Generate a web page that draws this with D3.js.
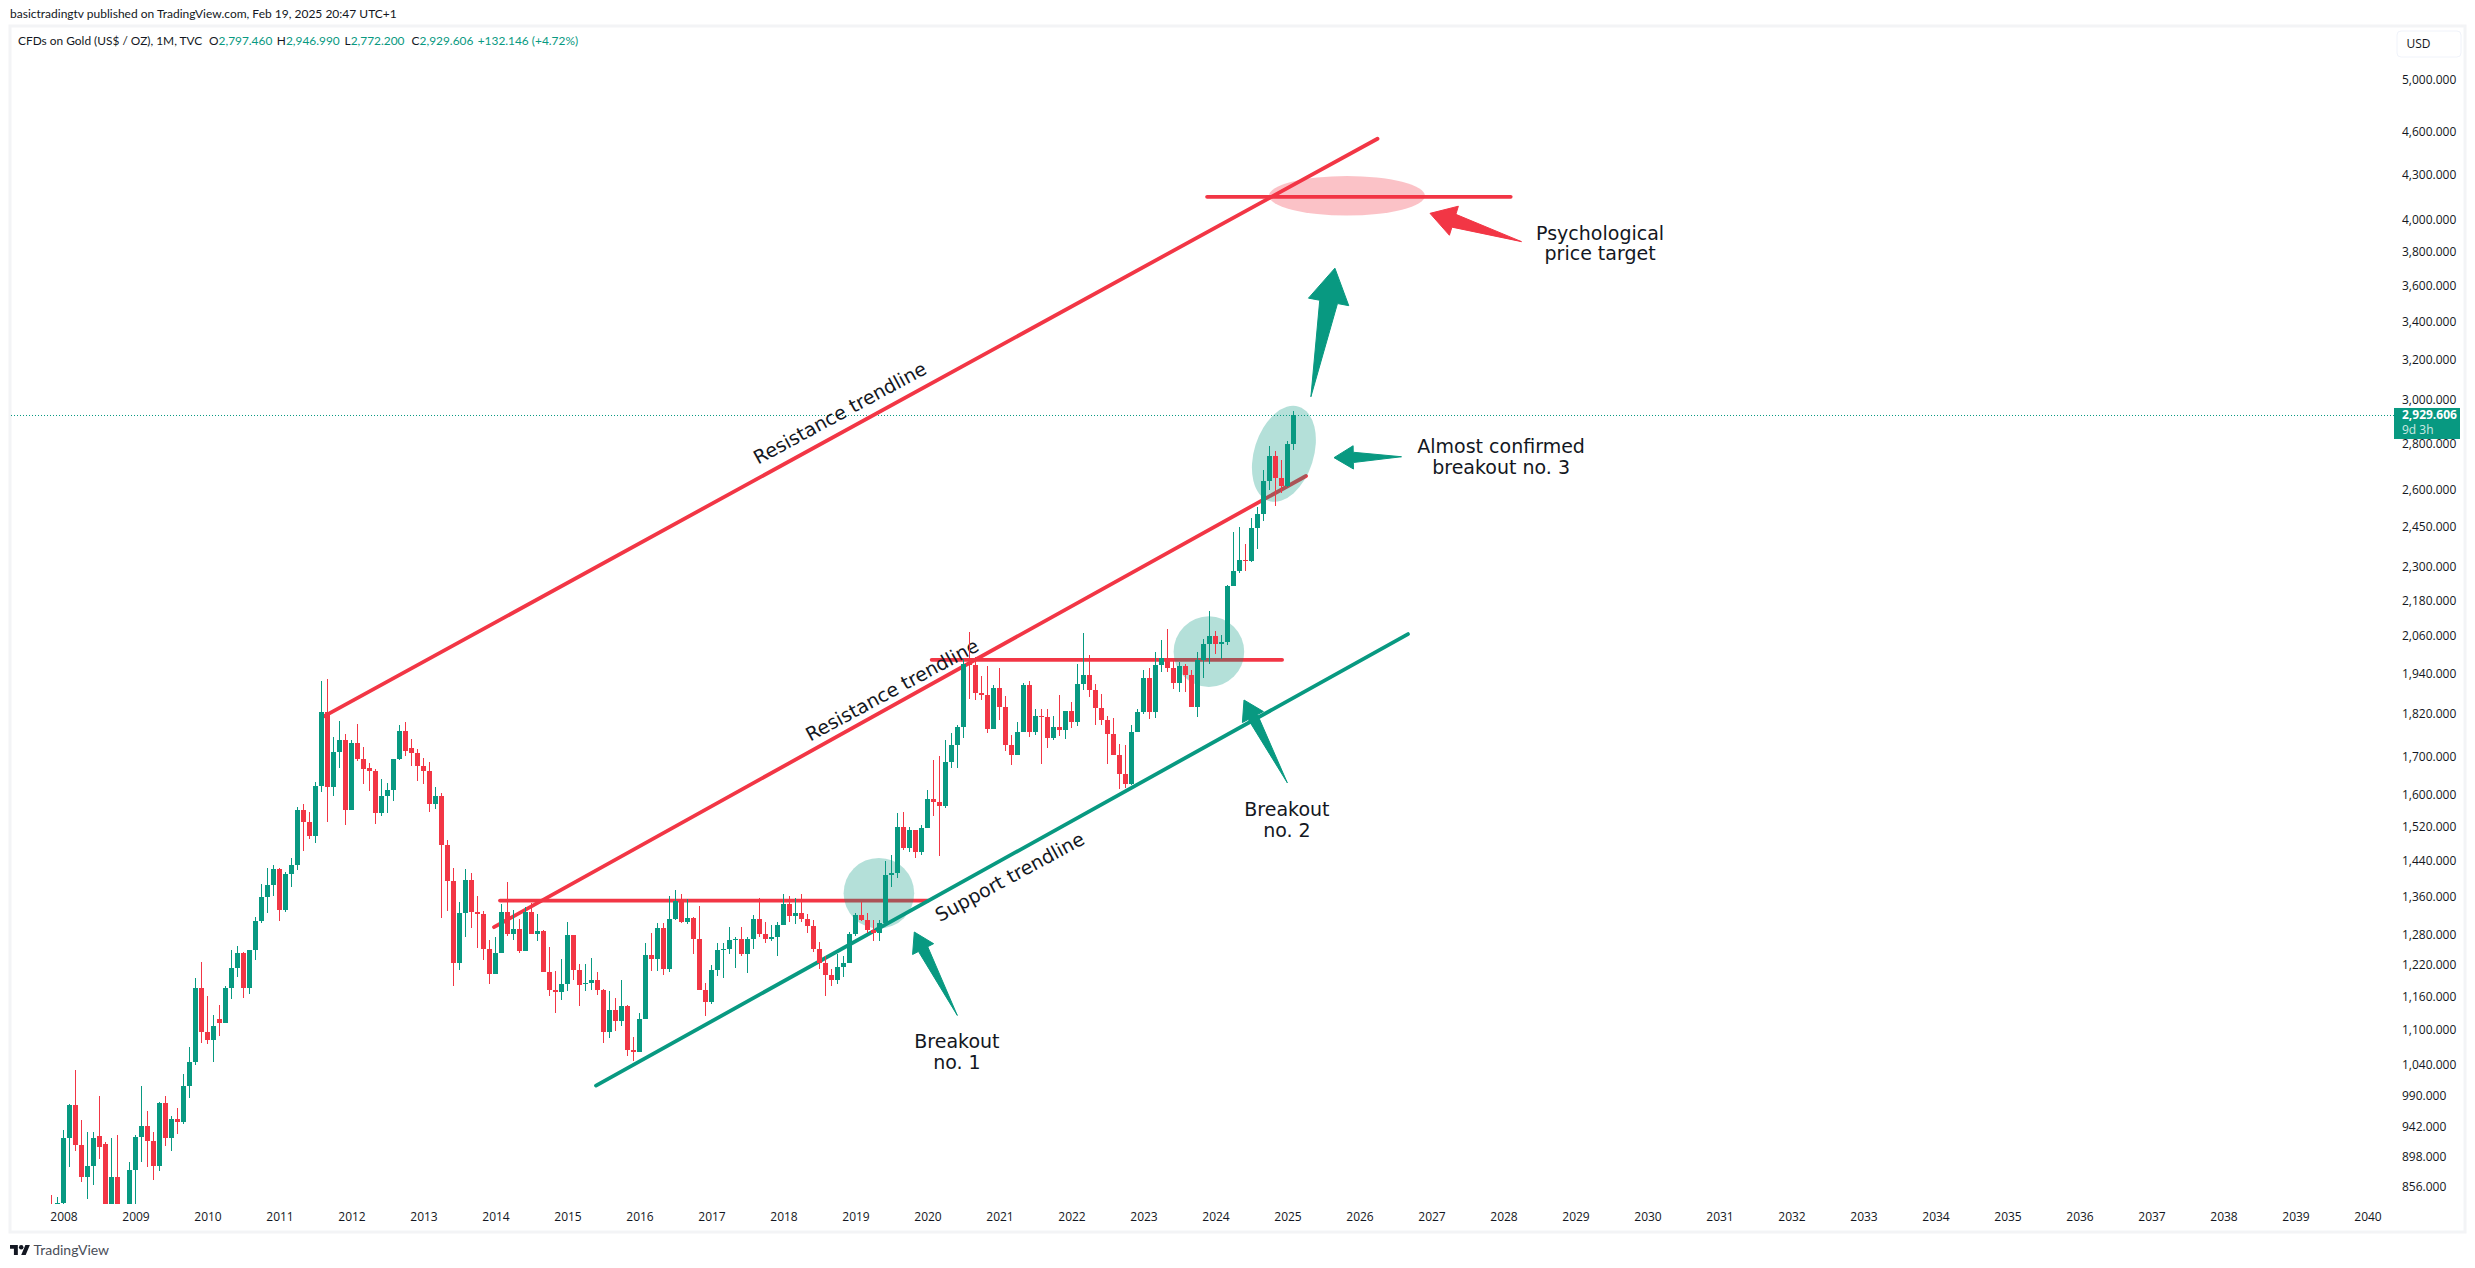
<!DOCTYPE html>
<html><head><meta charset="utf-8">
<script src="https://cdn.jsdelivr.net/npm/d3@7"></script>
<style>html,body{margin:0;padding:0;background:#fff}svg{display:block}</style>
</head><body><svg id="c" width="2475" height="1268"></svg>
<script>
// Months are counted from Jan 2008 = 0; series begins Nov 2007 = -2
const firstMonth = -2;
const opens = [789,783,
834,925,975,915,870,885,928,917,833,870,719,817,
880,927,944,921,885,979,926,954,949,1006,1045,1175,
1096,1081,1118,1112,1175,1213,1243,1175,1248,1308,1359,1386,
1421,1331,1410,1430,1561,1532,1498,1623,1825,1620,1711,1746,
1561,1737,1693,1668,1661,1554,1597,1612,1692,1770,1722,1710,
1674,1660,1577,1595,1476,1393,1224,1325,1395,1327,1323,1250,
1202,1243,1327,1280,1291,1247,1327,1280,1287,1205,1172,1167,
1183,1279,1209,1182,1184,1190,1172,1095,1134,1115,1142,1065,
1061,1118,1238,1230,1293,1211,1312,1350,1306,1315,1270,1171,
1149,1210,1248,1250,1268,1270,1241,1270,1312,1280,1270,1275,
1300,1343,1318,1325,1313,1298,1250,1223,1199,1190,1215,1223,
1281,1320,1310,1290,1282,1304,1407,1412,1518,1470,1511,1459,
1516,1589,1580,1570,1685,1730,1783,1975,1966,1882,1876,1775,
1895,1840,1730,1705,1768,1905,1768,1813,1810,1752,1783,1772,
1829,1795,1908,1937,1890,1835,1802,1762,1705,1652,1628,1768,
1825,1925,1825,1968,1990,1958,1912,1964,1937,1840,1983,2035,
2060,2035,2040,2230,2283,2325,2320,2447,2500,2635,2745,2650,
2615,2797.46];
const highs = [845,843,
937,977,1032,953,935,935,989,919,925,930,830,891,
930,1006,966,934,980,990,959,970,1024,1070,1195,1226,
1160,1125,1143,1179,1249,1257,1244,1249,1316,1388,1424,1430,
1424,1415,1446,1569,1576,1557,1632,1917,1923,1753,1800,1762,
1746,1790,1727,1681,1667,1641,1630,1692,1787,1795,1749,1721,
1696,1685,1620,1605,1489,1424,1349,1420,1412,1361,1328,1268,
1275,1343,1391,1331,1312,1338,1345,1322,1290,1255,1207,1230,
1306,1279,1222,1222,1232,1205,1173,1170,1156,1191,1143,1087,
1130,1263,1283,1303,1304,1360,1375,1365,1355,1316,1340,1184,
1220,1263,1263,1295,1275,1295,1275,1320,1357,1306,1299,1306,
1365,1361,1357,1365,1322,1309,1265,1237,1211,1240,1237,1285,
1325,1348,1325,1310,1310,1439,1453,1553,1556,1519,1511,1523,
1612,1690,1700,1745,1765,1788,1985,2073,1992,1933,1965,1905,
1958,1872,1760,1796,1912,1916,1834,1834,1834,1813,1875,1829,
1855,1970,2070,1998,1909,1878,1813,1808,1735,1730,1786,1833,
1950,1957,2008,2048,2083,1988,1975,1970,1950,2008,2050,2142,
2077,2062,2235,2430,2450,2385,2485,2530,2685,2790,2765,2727,
2810,2946.99];
const lows = [778,780,
780,883,906,863,840,858,895,786,740,680,700,740,
800,890,883,865,878,913,906,931,946,987,1040,1076,
1075,1045,1088,1112,1155,1197,1157,1165,1228,1303,1325,1362,
1308,1327,1381,1418,1463,1490,1480,1607,1532,1595,1668,1523,
1561,1688,1627,1608,1527,1545,1553,1583,1690,1700,1673,1635,
1626,1555,1564,1314,1328,1180,1210,1274,1294,1252,1228,1182,
1202,1243,1277,1268,1242,1247,1280,1267,1205,1161,1130,1153,
1170,1191,1142,1169,1172,1162,1077,1085,1098,1106,1054,1046,
1061,1118,1207,1208,1200,1205,1310,1303,1301,1240,1171,1124,
1146,1198,1195,1240,1214,1237,1204,1251,1274,1262,1266,1236,
1300,1306,1301,1306,1282,1244,1211,1160,1180,1182,1197,1223,
1277,1307,1282,1266,1266,1304,1381,1401,1464,1459,1445,1454,
1516,1545,1451,1566,1668,1668,1752,1863,1860,1860,1765,1775,
1802,1714,1676,1705,1768,1753,1760,1680,1722,1745,1755,1748,
1780,1785,1890,1870,1786,1786,1680,1705,1614,1616,1625,1768,
1820,1805,1808,1945,1945,1893,1885,1885,1840,1810,1925,1970,
2003,1985,2030,2230,2277,2285,2318,2365,2475,2600,2535,2585,
2612,2772.2];
const closes = [783,834,
925,975,915,870,885,925,912,833,870,719,817,880,
927,944,921,885,979,926,954,949,1006,1045,1175,1096,
1081,1106,1112,1175,1213,1243,1175,1248,1308,1359,1386,1421,
1331,1410,1430,1561,1532,1498,1623,1825,1620,1711,1746,1561,
1737,1693,1665,1661,1554,1597,1612,1692,1770,1716,1710,1674,
1660,1577,1595,1476,1393,1224,1325,1395,1327,1323,1250,1202,
1243,1327,1280,1291,1247,1327,1280,1287,1205,1172,1167,1183,
1279,1209,1181,1184,1190,1172,1095,1134,1115,1142,1065,1061,
1118,1238,1230,1293,1211,1312,1350,1306,1315,1270,1171,1149,
1210,1248,1250,1268,1270,1241,1270,1312,1280,1270,1275,1300,
1343,1318,1325,1313,1298,1250,1223,1199,1190,1215,1223,1281,
1320,1310,1290,1282,1304,1407,1412,1518,1470,1511,1459,1516,
1589,1580,1570,1685,1730,1783,1970,1966,1882,1876,1775,1895,
1840,1730,1705,1768,1905,1768,1813,1810,1752,1783,1772,1829,
1795,1908,1937,1890,1835,1802,1762,1705,1652,1628,1768,1825,
1925,1825,1968,1990,1958,1912,1964,1937,1840,1983,2035,2060,
2035,2040,2230,2283,2325,2320,2447,2500,2635,2745,2650,2615,
2797,2929.606];

const priceTicks = [5000,4600,4300,4000,3800,3600,3400,3200,3000,2800,2600,2450,2300,2180,2060,1940,1820,1700,1600,1520,1440,1360,1280,1220,1160,1100,1040,990,942,898,856];
const yearTicks = d3.range(2008,2041);

const headerText = "basictradingtv published on TradingView.com, Feb 19, 2025 20:47 UTC+1";
const symbolText = "CFDs on Gold (US$ / OZ), 1M, TVC";
const legendKeys = ["O","H","L","C"];
const legendValues = ["2,797.460","2,946.990","2,772.200","2,929.606"];
const legendChange = "+132.146 (+4.72%)";
const lastPrice = 2929.606;
const lastPriceLabel = "2,929.606";
const countdownLabel = "9d 3h";

// Drawings, anchored in chart units: [month index, price]
const redTrendlines = [
  [[43.4,1812],[219,4550]],
  [[71.75,1295],[207.08,2658]],
  [[72.75,1351],[144.1,1351]],
  [[144.7,1983],[203.1,1983]],
  [[190.6,4148],[241.2,4148]]
];
const greenTrendlines = [ [[88.75,1006],[224.08,2066]] ];
const highlightCenters = [[135.9,1367],[190.9,2009],[203.4,2754]];
const targetCenter = [213.9,4155];
const arrowTails = [[148.97,1125],[203.97,1630],[207.9,3016],[223,2741],[243,3862]];
const arrowTips  = [[141.8,1285],[196.75,1860],[211.9,3702],[211.75,2737],[227.75,4040]];
const arrowKinds = ["up","up","up","up","down"];
const lineLabels = [
  {text:"Resistance trendline", at:[129.4,2939]},
  {text:"Resistance trendline", at:[138.1,1890]},
  {text:"Support trendline", at:[157.7,1403]}
];
const noteLabels = [
  {lines:["Psychological","price target"], at:[256.1,3915]},
  {lines:["Almost confirmed","breakout no. 3"], at:[239.6,2784]},
  {lines:["Breakout","no. 1"], at:[148.9,1079]},
  {lines:["Breakout","no. 2"], at:[203.9,1561]}
];

const RED="#F23645", GREEN="#089981", INK="#131722";
const svg = d3.select("#c");
const x = d3.scaleLinear().domain([0,205]).range([63.5,1293.5]);
const y = d3.scaleLog().domain([5000,856]).range([79.6,1186.9]);
const P = d => [x(d[0]), y(d[1])];

svg.append("rect").attr("width",2475).attr("height",1268).attr("fill","#fff");
svg.append("defs").append("clipPath").attr("id","pane").append("rect")
  .attr("x",11).attr("y",28).attr("width",2383).attr("height",1176);

// frame
svg.append("rect").attr("x",10).attr("y",26).attr("width",2455).attr("height",1206)
  .attr("fill","none").attr("stroke","#f3f4f6").attr("stroke-width",3);

// header
svg.append("text").attr("x",10).attr("y",18).attr("font-family","Lato").attr("font-size",12).attr("fill",INK).text(headerText);
const leg = svg.append("g").attr("font-family","Lato").attr("font-size",11.9);
leg.append("text").attr("x",18).attr("y",45).attr("fill",INK).text(symbolText);
const legendX = [209,276.8,344.6,411.6];
legendKeys.forEach((k,i)=>{
  const t = leg.append("text").attr("x",legendX[i]).attr("y",45);
  t.append("tspan").attr("fill",INK).text(k);
  t.append("tspan").attr("fill",GREEN).text(legendValues[i]);
});
leg.append("text").attr("x",477.7).attr("y",45).attr("fill",GREEN).text(legendChange);

// price axis
const yAxis = d3.axisRight(y).tickValues(priceTicks).tickSize(0).tickFormat(d3.format(",.3f"));
const ya = svg.append("g").attr("transform","translate(2402,0)").call(yAxis);
ya.select(".domain").remove();
ya.selectAll("text").attr("x",0).attr("font-family","Open Sans").attr("font-size",12).attr("fill",INK);

// time axis
const xAxis = d3.axisBottom(x).tickValues(yearTicks.map(v=>(v-2008)*12)).tickSize(0).tickFormat(d=>String(2008+d/12));
const xa = svg.append("g").attr("transform","translate(0,1204)").call(xAxis);
xa.select(".domain").remove();
xa.selectAll("text").attr("y",8).attr("dy","0.71em").attr("font-family","Open Sans").attr("font-size",12).attr("fill",INK);

// USD button
svg.append("rect").attr("x",2397).attr("y",31).attr("width",64).attr("height",26).attr("rx",4)
  .attr("fill","#fff").attr("stroke","#f0f3fa").attr("stroke-width",1);
svg.append("text").attr("x",2406.5).attr("y",48).attr("font-family","Open Sans").attr("font-size",12).attr("fill",INK).text("USD");

const pane = svg.append("g").attr("clip-path","url(#pane)");

// last price dotted line
pane.append("line").attr("x1",11).attr("x2",2394).attr("y1",y(lastPrice)+0.5).attr("y2",y(lastPrice)+0.5)
  .attr("stroke",GREEN).attr("stroke-width",1).attr("stroke-dasharray","1 2");

// trendlines
const line = d3.line();
pane.selectAll("path.red").data(redTrendlines).join("path").attr("class","red")
  .attr("d",d=>line(d.map(P))).attr("fill","none").attr("stroke",RED).attr("stroke-width",3.8).attr("stroke-linecap","round");
pane.selectAll("path.grn").data(greenTrendlines).join("path").attr("class","grn")
  .attr("d",d=>line(d.map(P))).attr("fill","none").attr("stroke",GREEN).attr("stroke-width",3.8).attr("stroke-linecap","round");

// highlights
const hlSize = [[35.3,35.3,0],[35.3,35.3,0],[29.7,49.4,17.5]];
pane.selectAll("ellipse.hl").data(highlightCenters).join("ellipse").attr("class","hl")
  .attr("rx",(d,i)=>hlSize[i][0]).attr("ry",(d,i)=>hlSize[i][1])
  .attr("transform",(d,i)=>`translate(${P(d)}) rotate(${hlSize[i][2]})`)
  .attr("fill",GREEN).attr("fill-opacity",0.3);
pane.append("ellipse").attr("transform",`translate(${P(targetCenter)})`).attr("rx",78).attr("ry",19.7)
  .attr("fill",RED).attr("fill-opacity",0.3);

// rotated labels
pane.selectAll("text.ll").data(lineLabels).join("text").attr("class","ll")
  .attr("transform",d=>`translate(${P(d.at)}) rotate(-28.4)`)
  .attr("text-anchor","middle").attr("dy","0.35em")
  .attr("font-family","DejaVu Sans").attr("font-size",19).attr("fill",INK).text(d=>d.text);

// candles
const candles = d3.range(opens.length).map(k=>({m:firstMonth+k,o:opens[k],h:highs[k],l:lows[k],c:closes[k]}));
const cg = pane.append("g").attr("shape-rendering","crispEdges");
const col = d=>d.c>=d.o?GREEN:RED;
cg.selectAll("rect.w").data(candles).join("rect").attr("class","w")
  .attr("x",d=>x(d.m)-0.5).attr("width",1)
  .attr("y",d=>y(d.h)).attr("height",d=>y(d.l)-y(d.h)).attr("fill",col);
cg.selectAll("rect.b").data(candles).join("rect").attr("class","b")
  .attr("x",d=>x(d.m)-2.5).attr("width",5)
  .attr("y",d=>y(Math.max(d.o,d.c))).attr("height",d=>Math.max(1,Math.abs(y(d.o)-y(d.c)))).attr("fill",col);

// arrows
const arrowHead = [[19.2,23.7],[19.2,23.7],[34.3,41],[19.3,23.3],[25,30.4]];
const arrowPath = (tail,tip,hl,hw)=>{
  const [tx,ty]=P(tail),[px,py]=P(tip);
  const L=Math.hypot(px-tx,py-ty),ux=(px-tx)/L,uy=(py-ty)/L,nx=-uy,ny=ux;
  const bx=px-ux*hl,by=py-uy*hl;
  return d3.line()([[px,py],[bx+nx*hw/2,by+ny*hw/2],[bx+nx*hw*.22,by+ny*hw*.22],[tx,ty],[bx-nx*hw*.22,by-ny*hw*.22],[bx-nx*hw/2,by-ny*hw/2]])+"Z";
};
pane.selectAll("path.ar").data(arrowTails).join("path").attr("class","ar")
  .attr("d",(d,i)=>arrowPath(d,arrowTips[i],arrowHead[i][0],arrowHead[i][1]))
  .attr("fill",(d,i)=>arrowKinds[i]==="up"?GREEN:RED)
  .attr("stroke",(d,i)=>arrowKinds[i]==="up"?GREEN:RED).attr("stroke-width",1).attr("stroke-linejoin","round");

// notes
const notes = pane.selectAll("text.nl").data(noteLabels).join("text").attr("class","nl")
  .attr("text-anchor","middle").attr("font-family","DejaVu Sans").attr("font-size",19).attr("fill",INK);
notes.each(function(d){
  const t=d3.select(this), [a,b]=P(d.at);
  d.lines.forEach((s,i)=>t.append("tspan").attr("x",a).attr("y",b+6.5+i*20.5).text(s));
});

// last price tag
const tagY = y(lastPrice);
svg.append("rect").attr("x",2394).attr("y",tagY-7).attr("width",66).attr("height",31).attr("fill",GREEN);
svg.append("text").attr("x",2402).attr("y",tagY+4).attr("font-family","Open Sans").attr("font-size",12).attr("font-weight",700).attr("fill","#fff").text(lastPriceLabel);
svg.append("text").attr("x",2402).attr("y",tagY+19).attr("font-family","Open Sans").attr("font-size",12).attr("fill","#fff").attr("fill-opacity",0.8).text(countdownLabel);

// brand
const logo = svg.append("g").attr("transform","translate(10,1242.7) scale(0.56)").attr("fill",INK);
logo.append("path").attr("d","M14 22H7V11H0V4h14v18zM28 22h-8l7.5-18h8L28 22z");
logo.append("circle").attr("cx",20).attr("cy",8).attr("r",4);
svg.append("text").attr("x",33.5).attr("y",1255).attr("font-family","Lato").attr("font-size",14).attr("fill","#4a4e59").text("TradingView");
</script></body></html>
